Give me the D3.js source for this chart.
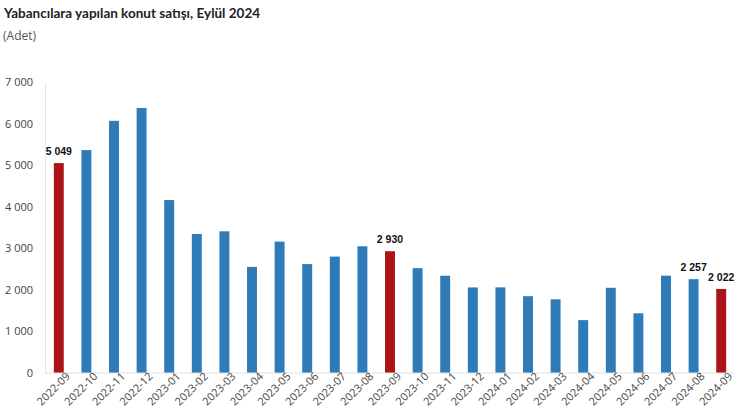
<!DOCTYPE html>
<html><head><meta charset="utf-8">
<script src="https://cdn.jsdelivr.net/npm/d3@7"></script>
<style>body{margin:0;background:#fff;} svg{display:block;}</style>
</head><body>
<svg id="c" width="740" height="420"></svg>
<script>
const categories = ["2022-09","2022-10","2022-11","2022-12","2023-01","2023-02","2023-03","2023-04","2023-05","2023-06","2023-07","2023-08","2023-09","2023-10","2023-11","2023-12","2024-01","2024-02","2024-03","2024-04","2024-05","2024-06","2024-07","2024-08","2024-09"];
const values = [5049,5362,6066,6374,4160,3344,3408,2552,3160,2620,2800,3048,2930,2522,2340,2058,2060,1848,1772,1272,2050,1436,2341,2257,2022];
const highlighted = ["2022-09","2023-09","2024-09"];
const labelled = ["2022-09","2023-09","2024-08","2024-09"];
const yTicks = [0,1000,2000,3000,4000,5000,6000,7000];
const title = "Yabancılara yapılan konut satışı, Eylül 2024";
const subtitle = "(Adet)";

const svg = d3.select("#c");
const m = {l:45, r:5, t:82, b:47};
const W = 740, H = 420;
const x = d3.scaleBand().domain(categories).range([m.l, W - m.r]).paddingInner(0.64).paddingOuter(0.32);
const y = d3.scaleLinear().domain([0,7000]).range([H - m.b, m.t]);
const fmt = v => d3.format(",")(v).replace(/,/g, " ");

svg.append("text").attr("x",4).attr("y",18).text(title)
  .style("font-family","Lato, 'Open Sans', sans-serif").style("font-weight","700").style("font-size","13.5px").attr("fill","#222");
svg.append("text").attr("x",3).attr("y",40).text(subtitle)
  .style("font-family","'Open Sans', sans-serif").style("font-size","12px").attr("fill","#555");

// y axis
const ya = svg.append("g").attr("transform",`translate(${m.l},0)`)
  .call(d3.axisLeft(y).tickValues(yTicks).tickFormat(fmt).tickSize(0).tickPadding(12));
ya.select(".domain").attr("stroke","#e6e6e6");
ya.selectAll("text").style("font-family","'Open Sans', sans-serif").style("font-size","11px").attr("fill","#444");

// bars
svg.append("g").selectAll("rect").data(categories).join("rect")
  .attr("x", d => x(d)).attr("width", x.bandwidth())
  .attr("y", (d,i) => y(values[i])).attr("height", (d,i) => y(0) - y(values[i]))
  .attr("fill", d => highlighted.includes(d) ? "#ab1519" : "#2e7bb8");

// x axis
const xa = svg.append("g").attr("transform",`translate(0,${y(0)})`)
  .call(d3.axisBottom(x).tickSize(0).tickPadding(8));
xa.select(".domain").attr("stroke","#e0e0e0").attr("d",`M${m.l},0H${W - m.r}`);
xa.selectAll("text").attr("text-anchor","end").attr("dx","0.5em").attr("dy","0.3em")
  .attr("transform","rotate(-45)")
  .style("font-family","'Open Sans', sans-serif").style("font-size","11px").attr("fill","#444");

// value labels
svg.append("g").selectAll("text").data(categories.filter(c => labelled.includes(c))).join("text")
  .attr("x", d => x(d) + x.bandwidth()/2)
  .attr("y", d => y(values[categories.indexOf(d)]) - 8)
  .attr("text-anchor","middle").text(d => fmt(values[categories.indexOf(d)]))
  .style("font-family","'Liberation Sans', Arial, sans-serif").style("font-weight","700").style("font-size","10.5px").attr("fill","#111");
</script>
</body></html>
